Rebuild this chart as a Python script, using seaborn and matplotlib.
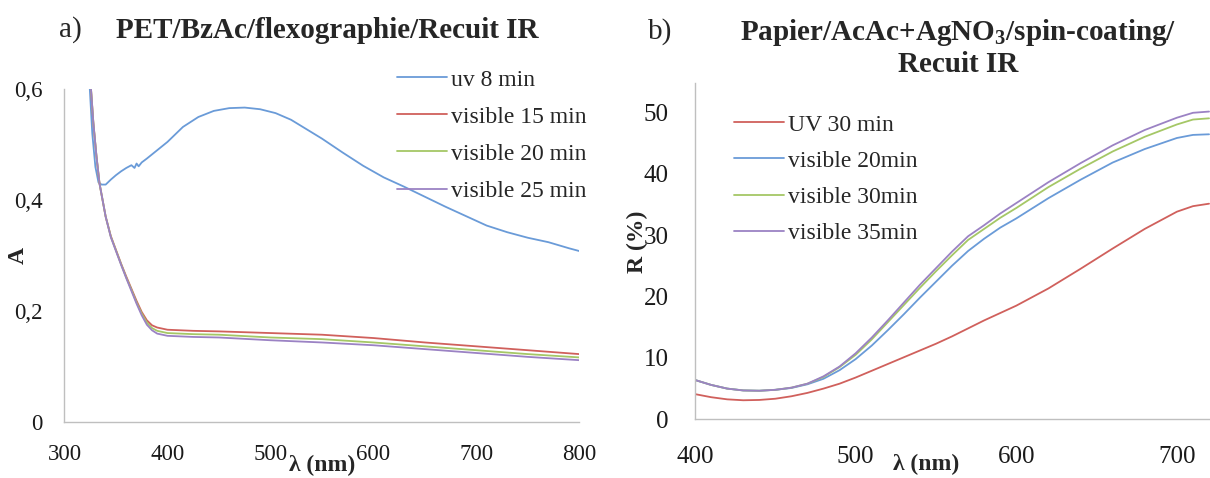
import matplotlib
matplotlib.use("Agg")
import matplotlib.pyplot as plt
import seaborn as sns
import numpy as np
import pandas as pd

# a) PET/BzAc/flexographie - absorbance
wl_uv = [324, 327, 330, 333, 336, 340, 345, 350, 355, 360, 365, 368, 370, 372,
         375, 380, 390, 400, 415, 430, 445, 460, 475, 490, 505, 520, 535, 550,
         570, 590, 610, 630, 650, 670, 690, 710, 730, 750, 770, 790, 800]
a_uv8 = [0.62, 0.52, 0.46, 0.432, 0.428, 0.428, 0.437, 0.445, 0.452, 0.458,
         0.463, 0.458, 0.466, 0.461, 0.468, 0.475, 0.490, 0.505, 0.532, 0.550,
         0.561, 0.566, 0.567, 0.564, 0.557, 0.545, 0.528, 0.511, 0.486, 0.462,
         0.441, 0.424, 0.406, 0.388, 0.371, 0.354, 0.342, 0.332, 0.324, 0.313,
         0.308]

wl_vis = [325, 328, 331, 334, 337, 340, 345, 350, 355, 360, 365, 370, 375, 380,
          385, 390, 400, 425, 450, 500, 550, 600, 650, 700, 750, 800]
a_vis15 = [0.62, 0.54, 0.48, 0.43, 0.40, 0.37, 0.335, 0.31, 0.285, 0.262, 0.24,
           0.218, 0.198, 0.183, 0.174, 0.170, 0.166, 0.164, 0.163, 0.160, 0.157,
           0.151, 0.143, 0.136, 0.129, 0.122]
a_vis20 = [0.62, 0.54, 0.48, 0.43, 0.40, 0.37, 0.334, 0.309, 0.284, 0.260, 0.238,
           0.215, 0.195, 0.179, 0.169, 0.164, 0.160, 0.158, 0.157, 0.152, 0.149,
           0.143, 0.136, 0.129, 0.122, 0.116]
a_vis25 = [0.62, 0.54, 0.48, 0.43, 0.40, 0.37, 0.333, 0.308, 0.283, 0.259, 0.236,
           0.213, 0.192, 0.175, 0.165, 0.159, 0.155, 0.153, 0.152, 0.147, 0.143,
           0.138, 0.131, 0.124, 0.117, 0.111]

# b) Papier/AcAc+AgNO3/spin-coating - reflectance
wl_b = [400, 410, 420, 430, 440, 450, 460, 470, 480, 490, 500, 510, 520, 530,
        540, 550, 560, 570, 580, 590, 600, 620, 640, 660, 680, 700, 710, 720]
r_uv30 = [4.1, 3.6, 3.25, 3.1, 3.15, 3.35, 3.75, 4.3, 5.0, 5.8, 6.8, 7.9, 9.0,
          10.1, 11.2, 12.3, 13.5, 14.8, 16.1, 17.3, 18.5, 21.3, 24.5, 27.8,
          31.0, 33.8, 34.7, 35.1]
r_vis20 = [6.4, 5.6, 5.0, 4.7, 4.65, 4.8, 5.1, 5.7, 6.6, 8.0, 9.8, 12.0, 14.5,
           17.1, 19.8, 22.4, 25.0, 27.4, 29.4, 31.2, 32.7, 36.0, 39.0, 41.8,
           44.0, 45.8, 46.3, 46.4]
r_vis30 = [6.4, 5.6, 5.0, 4.7, 4.65, 4.8, 5.15, 5.8, 6.9, 8.5, 10.5, 13.0, 15.8,
           18.6, 21.4, 24.1, 26.7, 29.2, 31.0, 32.8, 34.4, 37.8, 40.8, 43.6,
           46.0, 48.0, 48.8, 49.0]
r_vis35 = [6.4, 5.6, 5.0, 4.7, 4.65, 4.8, 5.15, 5.8, 7.0, 8.6, 10.75, 13.3, 16.1,
           19.0, 21.9, 24.6, 27.3, 29.8, 31.6, 33.5, 35.2, 38.6, 41.7, 44.6,
           47.1, 49.1, 49.9, 50.1]

labels_a = ["uv 8 min", "visible 15 min", "visible 20 min", "visible 25 min"]
labels_b = ["UV 30 min", "visible 20min", "visible 30min", "visible 35min"]

blue, red, green, purple = "#6A9BD8", "#D0605C", "#A5C766", "#9B82C4"

df_a = pd.concat([
    pd.DataFrame({"wl": wl_uv, "val": a_uv8, "s": labels_a[0]}),
    pd.DataFrame({"wl": wl_vis, "val": a_vis15, "s": labels_a[1]}),
    pd.DataFrame({"wl": wl_vis, "val": a_vis20, "s": labels_a[2]}),
    pd.DataFrame({"wl": wl_vis, "val": a_vis25, "s": labels_a[3]}),
])
df_b = pd.concat([
    pd.DataFrame({"wl": wl_b, "val": r_uv30, "s": labels_b[0]}),
    pd.DataFrame({"wl": wl_b, "val": r_vis20, "s": labels_b[1]}),
    pd.DataFrame({"wl": wl_b, "val": r_vis30, "s": labels_b[2]}),
    pd.DataFrame({"wl": wl_b, "val": r_vis35, "s": labels_b[3]}),
])

sns.set_theme(style="white")
plt.rcParams["font.family"] = ["Liberation Serif", "DejaVu Serif"]
plt.rcParams["mathtext.fontset"] = "custom"
plt.rcParams["mathtext.rm"] = "Liberation Serif"
plt.rcParams["mathtext.bf"] = "Liberation Serif:bold"

fig = plt.figure(figsize=(12.1, 4.78), dpi=100)
ax1 = fig.add_axes([0.0533, 0.1178, 0.4255, 0.6954])
ax2 = fig.add_axes([0.5744, 0.1228, 0.4256, 0.7042])

sns.lineplot(data=df_a, x="wl", y="val", hue="s", hue_order=labels_a,
             palette=[blue, red, green, purple], linewidth=1.3, ax=ax1,
             legend=False)
sns.lineplot(data=df_b, x="wl", y="val", hue="s", hue_order=labels_b,
             palette=[red, blue, green, purple], linewidth=1.3, ax=ax2,
             legend=False)

ax1.set_xlim(300, 800)
ax1.set_ylim(0, 0.6)
ax1.set_xticks([300, 400, 500, 600, 700, 800])
ax1.set_yticks([0, 0.2, 0.4, 0.6])
ax1.set_yticklabels(["0", "0,2", "0,4", "0,6"])

ax2.set_xlim(400, 720.6)
ax2.set_ylim(0, 54.8)
ax2.set_xticks([400, 500, 600, 700])
ax2.set_yticks([0, 10, 20, 30, 40, 50])

for ax, fs, tl in ((ax1, 16.5, 7), (ax2, 18, 10)):
    sns.despine(ax=ax)
    for sp in ("left", "bottom"):
        ax.spines[sp].set_color("#BFBFBF")
        ax.spines[sp].set_linewidth(1.0)
    ax.tick_params(direction="out", length=tl, width=1, color="#BFBFBF",
                   labelsize=fs, labelcolor="#1a1a1a", pad=9)
    ax.set_xlabel("")
    ax.set_ylabel("")

# axis labels
fig.text(18 / 1210, 1 - 255 / 478, "A", fontsize=17, fontweight="bold",
         rotation=90, ha="center", va="center")
fig.text(322 / 1210, 1 - 465 / 478, "λ (nm)", fontsize=17, fontweight="bold",
         ha="center", va="center")
fig.text(637 / 1210, 1 - 242 / 478, "R (%)", fontsize=17, fontweight="bold",
         rotation=90, ha="center", va="center")
fig.text(926 / 1210, 1 - 464 / 478, "λ (nm)", fontsize=17, fontweight="bold",
         ha="center", va="center")

# legends
h_a = [plt.Line2D([], [], color=c, lw=1.3) for c in (blue, red, green, purple)]
h_b = [plt.Line2D([], [], color=c, lw=1.3) for c in (red, blue, green, purple)]
leg_kw = dict(frameon=False, fontsize=17, handlelength=2.1, handletextpad=0.2,
              labelspacing=0.66, borderpad=0, borderaxespad=0, loc="upper left")
fig.legend(h_a, labels_a, bbox_to_anchor=(397 / 1210, 1 - 69 / 478), **leg_kw)
leg_kw["labelspacing"] = 0.62
fig.legend(h_b, labels_b, bbox_to_anchor=(734 / 1210, 1 - 114 / 478), **leg_kw)

# titles
fig.text(70 / 1210, 1 - 30 / 478, "a)", fontsize=21, ha="center", va="center")
fig.text(327 / 1210, 1 - 30 / 478, "PET/BzAc/flexographie/Recuit IR",
         fontsize=21, fontweight="bold", ha="center", va="center")
fig.text(660 / 1210, 1 - 32 / 478, "b)", fontsize=21, ha="center", va="center")
fig.text(958 / 1210, 1 - 33 / 478,
         "Papier/AcAc+AgNO$_\\mathbf{3}$/spin-coating/",
         fontsize=21, fontweight="bold", ha="center", va="center")
fig.text(958 / 1210, 1 - 65 / 478, "Recuit IR",
         fontsize=21, fontweight="bold", ha="center", va="center")

fig.savefig("out.png", dpi=100)
